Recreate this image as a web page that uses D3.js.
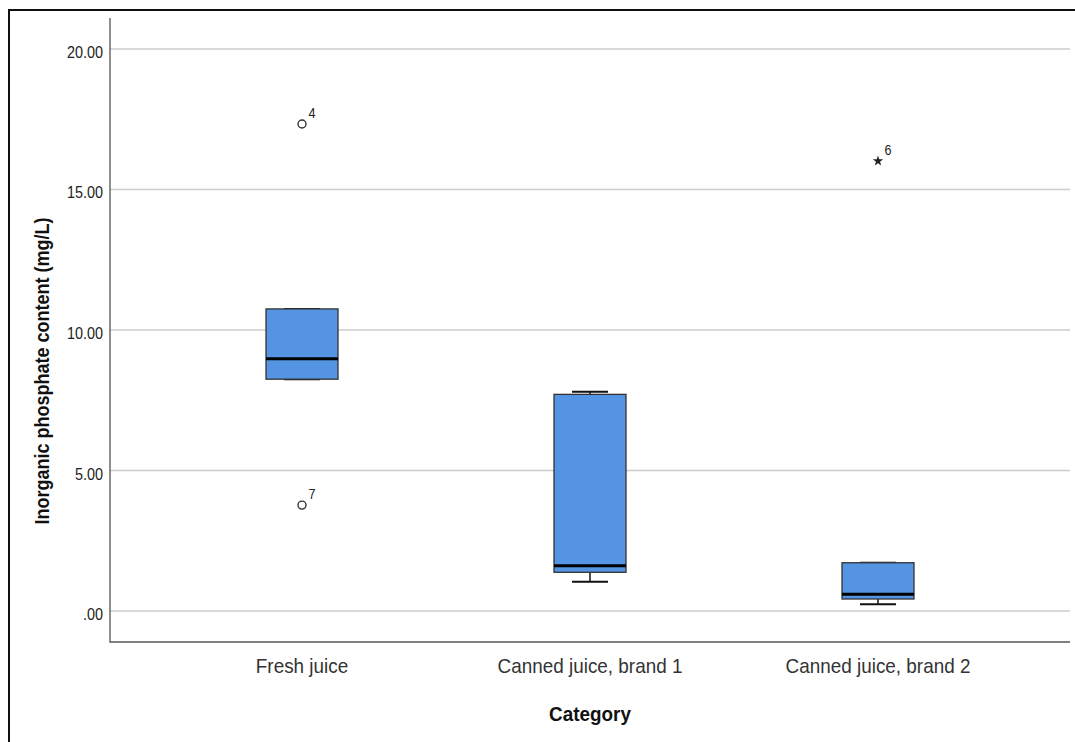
<!DOCTYPE html>
<html>
<head>
<meta charset="utf-8">
<script src="https://cdn.jsdelivr.net/npm/d3@7"></script>
<style>
  html, body { margin: 0; padding: 0; background: #fff; }
  svg { display: block; }
</style>
</head>
<body>
<svg id="chart" width="1075" height="742"></svg>
<script>
// Box-plot summary per category
const categories = ["Fresh juice", "Canned juice, brand 1", "Canned juice, brand 2"];
const q1Values = [8.25, 1.38, 0.43];
const medianValues = [8.98, 1.61, 0.60];
const q3Values = [10.75, 7.71, 1.72];
const whiskerLow = [8.25, 1.04, 0.24];
const whiskerHigh = [10.75, 7.80, 1.72];

// Outlying cases: category index, value, case id, marker kind
const outlierCategory = [0, 0, 2];
const outlierValues = [17.33, 3.77, 16.01];
const outlierIds = ["4", "7", "6"];
const outlierKind = ["circle", "circle", "star"];

const yTicks = [0, 5, 10, 15, 20];
const yTickLabels = [".00", "5.00", "10.00", "15.00", "20.00"];

const svg = d3.select("#chart");
const plotLeft = 110, plotRight = 1070, plotTop = 18, plotBottom = 642;
const squeeze = 0.9;

const x = d3.scalePoint().domain(categories).range([plotLeft, plotRight]).padding(0.6667);
const y = d3.scaleLinear().domain([-1.1, 21.1]).range([plotBottom, plotTop]);
const boxW = x.step() / 4;
const capW = boxW / 2;

// outer frame
svg.append("path")
  .attr("d", `M9,742 L9,10 L1075,10`)
  .attr("fill", "none").attr("stroke", "#111").attr("stroke-width", 2);

// gridlines
svg.append("g").selectAll("line").data(yTicks).join("line")
  .attr("x1", plotLeft).attr("x2", plotRight)
  .attr("y1", d => y(d)).attr("y2", d => y(d))
  .attr("stroke", "#cccccc").attr("stroke-width", 1.5);

// axes lines
svg.append("path")
  .attr("d", `M${plotLeft},${plotTop} L${plotLeft},${plotBottom} L${plotRight},${plotBottom}`)
  .attr("fill", "none").attr("stroke", "#555").attr("stroke-width", 1.3);

// helper for horizontally condensed text
function label(g, tx, ty, txt, opts) {
  const grp = g.append("g").attr("transform", `translate(${tx},${ty}) ${opts.rotate ? "rotate(-90)" : ""} scale(${squeeze},1)`);
  return grp.append("text")
    .attr("x", 0).attr("y", 0)
    .attr("text-anchor", opts.anchor || "middle")
    .attr("font-family", "'Liberation Sans', Arial, sans-serif")
    .attr("font-size", opts.size)
    .attr("font-weight", opts.weight || "normal")
    .attr("fill", opts.color || "#222")
    .text(txt);
}

const textLayer = svg.append("g");

// y tick labels
yTicks.forEach((t, i) => {
  label(textLayer, 103, y(t) + 9, yTickLabels[i], { size: 16, anchor: "end", color: "#222" });
});

// x tick labels
categories.forEach(c => {
  label(textLayer, x(c), 673, c, { size: 21, color: "#333" });
});

// axis titles
label(textLayer, 590, 721, "Category", { size: 21, weight: "bold", color: "#111" });
label(textLayer, 49, 371, "Inorganic phosphate content (mg/L)", { size: 20, weight: "bold", color: "#111", rotate: true });

// boxes
const boxes = svg.append("g");
categories.forEach((c, i) => {
  const cx = x(c);
  const g = boxes.append("g");
  // whisker stems
  g.append("line")
    .attr("x1", cx).attr("x2", cx)
    .attr("y1", y(whiskerHigh[i])).attr("y2", y(q3Values[i]))
    .attr("stroke", "#111").attr("stroke-width", 1.5);
  g.append("line")
    .attr("x1", cx).attr("x2", cx)
    .attr("y1", y(q1Values[i])).attr("y2", y(whiskerLow[i]))
    .attr("stroke", "#111").attr("stroke-width", 1.5);
  // caps
  [whiskerHigh[i], whiskerLow[i]].forEach(v => {
    g.append("line")
      .attr("x1", cx - capW / 2).attr("x2", cx + capW / 2)
      .attr("y1", y(v)).attr("y2", y(v))
      .attr("stroke", "#111").attr("stroke-width", 2);
  });
  // box
  g.append("rect")
    .attr("x", cx - boxW / 2).attr("width", boxW)
    .attr("y", y(q3Values[i])).attr("height", y(q1Values[i]) - y(q3Values[i]))
    .attr("fill", "#5494e2").attr("stroke", "#333").attr("stroke-width", 1.3);
  // median
  g.append("line")
    .attr("x1", cx - boxW / 2).attr("x2", cx + boxW / 2)
    .attr("y1", y(medianValues[i])).attr("y2", y(medianValues[i]))
    .attr("stroke", "#000").attr("stroke-width", 3);
});

// outliers
const pts = svg.append("g");
outlierValues.forEach((v, i) => {
  const cx = x(categories[outlierCategory[i]]);
  const cy = y(v);
  if (outlierKind[i] === "circle") {
    pts.append("circle").attr("cx", cx).attr("cy", cy).attr("r", 4)
      .attr("fill", "#fff").attr("stroke", "#333").attr("stroke-width", 1.4);
  } else {
    pts.append("path")
      .attr("d", d3.symbol(d3.symbolStar, 34)())
      .attr("transform", `translate(${cx},${cy})`)
      .attr("fill", "#222");
  }
  label(pts, cx + 10, cy - 6, outlierIds[i], { size: 14, color: "#222" });
});
</script>
</body>
</html>
